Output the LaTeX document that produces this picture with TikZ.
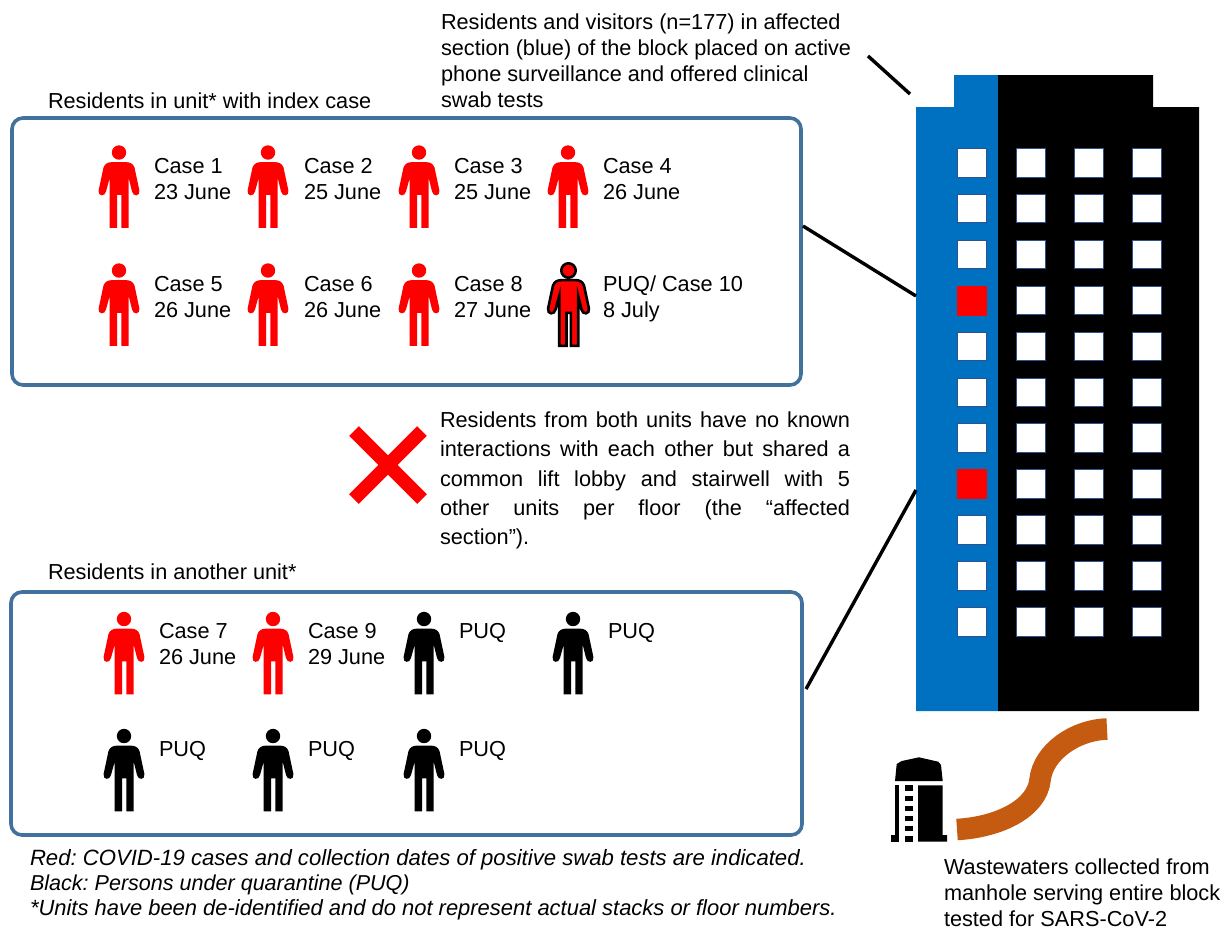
\documentclass[tikz,border=0pt]{standalone}
\usepackage{fontspec}
\setmainfont{Liberation Sans}
\frenchspacing
\definecolor{bluebldg}{HTML}{0070C0}
\definecolor{boxblue}{HTML}{41719C}
\definecolor{winblue}{HTML}{2F528F}
\definecolor{pipe}{HTML}{C55A11}
\tikzset{
  txt/.style={anchor=base west,inner sep=0pt,outer sep=0pt,font=\fontsize{21.7}{25}\selectfont,text=black},
  itxt/.style={txt,font=\fontsize{#1}{25}\selectfont\itshape},
  panel/.style={draw=boxblue,line width=3.6pt,rounded corners=11pt,fill=white,inner sep=0pt},
  link/.style={draw=black,line width=3.4pt},
  win/.style={draw=winblue,line width=0.9pt,fill=white},
  redwin/.style={fill=red},
  pics/person/.style={code={
    \path[pic actions] (-7,9.6) .. controls (-11,9.8) and (-14,11) .. (-15.5,15)
      -- (-20.4,38) .. controls (-21.4,44) and (-14,44.5) .. (-13,39)
      -- (-9.3,25.6) -- (-9.3,75.3) -- (-2,75.3) -- (-2,42.3) -- (2.3,42.3) -- (2.3,75.3) -- (9.7,75.3) -- (9.7,25.6)
      -- (13,39) .. controls (14,44.5) and (21.4,44) .. (20.4,38)
      -- (15.5,15) .. controls (14,11) and (11,9.8) .. (7,9.6) -- cycle;
    \path[pic actions] (0,0) circle[radius=7.2];
  }},
}
\begin{document}
\begin{tikzpicture}[x=1pt,y=-1pt]
\useasboundingbox (0,0) rectangle (1222,929);
% panels
\node[panel,minimum width=789pt,minimum height=267pt] (top) at (406.5,251.5) {};
\node[panel,minimum width=791pt,minimum height=243pt] (bottom) at (406.5,713.5) {};
% building
\fill[bluebldg] (916,711) -- (916,107) -- (954,107) -- (954,75) -- (998,75) -- (998,711) -- cycle;
\fill[black] (998,711) -- (998,75) -- (1153,75) -- (1153,107) -- (1199,107) -- (1199,711) -- cycle;
\foreach \r in {0,...,10}{
  \foreach \c in {957,1016,1074,1132}{
    \pgfmathsetmacro{\yy}{148+45.9*\r}
    \draw[win] (\c+0.5,\yy+0.5) rectangle +(29,28.5);
  }
}
\foreach \r in {3,7}{
  \pgfmathsetmacro{\yy}{148+45.9*\r}
  \fill[redwin] (957,\yy) rectangle +(30,30);
}
% connectors
\coordinate (a1) at (868,56); \coordinate (a2) at (910,94);
\coordinate (b1) at (803,226); \coordinate (b2) at (916,296);
\coordinate (c1) at (806,689); \coordinate (c2) at (916,490);
\draw[link] (a1) -- (a2);
\draw[link] (b1) -- (b2);
\draw[link] (c1) -- (c2);
% red cross
\draw[red,line width=13.5pt] (354,431) -- (422,499);
\draw[red,line width=13.5pt] (422,431) -- (354,499);
% persons top panel
\foreach \x in {119,268,419,568}{
  \pic[fill=red] at (\x,152.5) {person};
}
\foreach \x in {119,268,419}{
  \pic[fill=red] at (\x,270.5) {person};
}
\pic[fill=red,draw=black,line width=2.6pt] at (568.5,270.5) {person};
% persons bottom panel
\pic[fill=red] at (124,619) {person};
\pic[fill=red] at (273,619) {person};
\pic[fill=black] at (424,619) {person};
\pic[fill=black] at (573,619) {person};
\pic[fill=black] at (124,736) {person};
\pic[fill=black] at (273,736) {person};
\pic[fill=black] at (424,736) {person};
% labels
\node[txt] (t1) at (441,29) {Residents and visitors (n=177) in affected};
\node[txt] (t2) at (441,55) {section (blue) of the block placed on active};
\node[txt] (t3) at (441,81.7) {phone surveillance and offered clinical};
\node[txt] (t4) at (441,107) {swab tests};
\node[txt] (h1) at (48,108) {Residents in unit* with index case};
\node[txt] (h2) at (48,579) {Residents in another unit*};
\node[txt] (c1a) at (154,173) {Case 1}; \node[txt] (c1b) at (154,199) {23 June};
\node[txt] (c2a) at (304,173) {Case 2}; \node[txt] (c2b) at (304,199) {25 June};
\node[txt] (c3a) at (454,173) {Case 3}; \node[txt] (c3b) at (454,199) {25 June};
\node[txt] (c4a) at (603,173) {Case 4}; \node[txt] (c4b) at (603,199) {26 June};
\node[txt] (c5a) at (154,291) {Case 5}; \node[txt] (c5b) at (154,317) {26 June};
\node[txt] (c6a) at (304,291) {Case 6}; \node[txt] (c6b) at (304,317) {26 June};
\node[txt] (c8a) at (454,291) {Case 8}; \node[txt] (c8b) at (454,317) {27 June};
\node[txt] (c10a) at (603,291) {PUQ/ Case 10}; \node[txt] (c10b) at (603,317) {8 July};
\node[txt] (c7a) at (159,638) {Case 7}; \node[txt] (c7b) at (159,664) {26 June};
\node[txt] (c9a) at (308,638) {Case 9}; \node[txt] (c9b) at (308,664) {29 June};
\node[txt] (p1) at (459,638) {PUQ};
\node[txt] (p2) at (608,638) {PUQ};
\node[txt] (p3) at (159,756) {PUQ};
\node[txt] (p4) at (308,756) {PUQ};
\node[txt] (p5) at (459,756) {PUQ};
% justified paragraph
\node[txt] (j1) at (440,427) {\makebox[410pt][s]{Residents from both units have no known}};
\node[txt] (j2) at (440,456) {\makebox[410pt][s]{interactions with each other but shared a}};
\node[txt] (j3) at (440,486) {\makebox[410pt][s]{common lift lobby and stairwell with 5}};
\node[txt] (j4) at (440,515) {\makebox[410pt][s]{other units per floor (the “affected}};
\node[txt] (j5) at (440,544) {section”).};
% footnotes
\node[itxt=22.12] (f1) at (30,865.5) {Red: COVID-19 cases and collection dates of positive swab tests are indicated.};
\node[itxt=21.55] (f2) at (30,890.5) {Black: Persons under quarantine (PUQ)};
\node[itxt=21.95] (f3) at (30,915.5) {*Units have been de-identified and do not represent actual stacks or floor numbers.};
\node[txt] (w1) at (944,874) {Wastewaters collected from};
\node[txt] (w2) at (944,900) {manhole serving entire block};
\node[txt] (w3) at (944,926) {tested for SARS-CoV-2};
% manhole icon
\fill[black] (895,781) -- (896.7,764) -- (901.7,761) -- (919,757.3) -- (938.3,761.7) -- (941,765) -- (942.7,781) -- cycle;
\fill[black] (895,785.3) rectangle (899.3,841.7);
\fill[black] (890.7,835) rectangle (899.3,841.7);
\foreach \y/\h in {785.3/5.3,795.7/5,805.7/5.3,815.7/5.3,825.7/5.3,835.7/6}{
  \fill[black] (905,\y) rectangle +(7.7,\h);
}
\fill[black] (918,785.3) -- (942.7,785.3) -- (942.7,835) -- (947,835) -- (947,841.7) -- (918,841.7) -- cycle;
% pipe
\draw[pipe,line width=21.5pt] (957,829.5) .. controls (1000,827) and (1037,808) .. (1040,780) .. controls (1043,752) and (1075,730) .. (1107,729);
\end{tikzpicture}
\end{document}
